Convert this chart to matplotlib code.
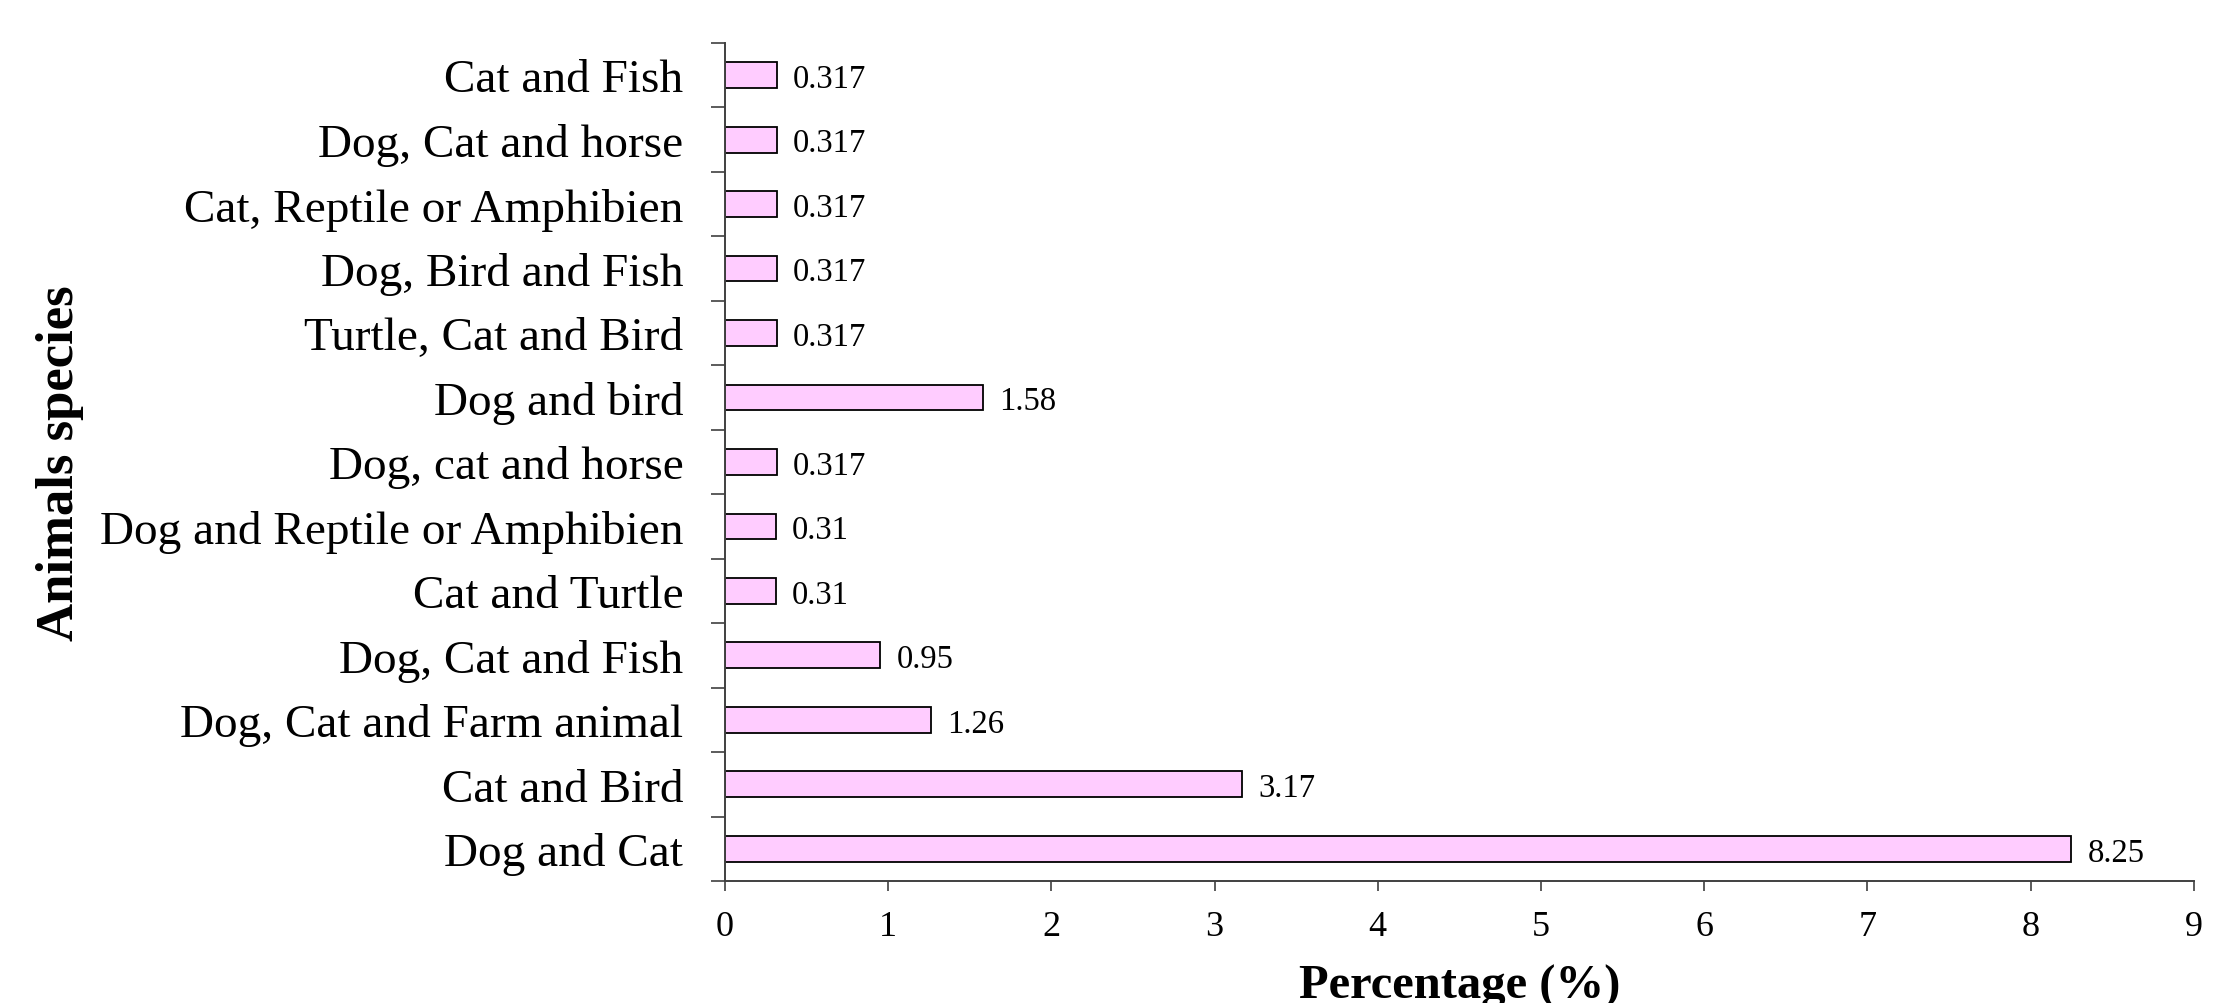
import numpy as np
import matplotlib
matplotlib.use('Agg')
import matplotlib.pyplot as plt

plt.rcParams['font.family'] = ['Liberation Serif', 'DejaVu Serif']

# dados (de baixo para cima)
especies = ['Dog and Cat', 'Cat and Bird', 'Dog, Cat and Farm animal',
            'Dog, Cat and Fish', 'Cat and Turtle', 'Dog and Reptile or Amphibien',
            'Dog, cat and horse', 'Dog and bird', 'Turtle, Cat and Bird',
            'Dog, Bird and Fish', 'Cat, Reptile or Amphibien', 'Dog, Cat and horse',
            'Cat and Fish']
percentuais = [8.25, 3.17, 1.26, 0.95, 0.31, 0.31, 0.317, 1.58, 0.317,
               0.317, 0.317, 0.317, 0.317]
rotulos = ['8.25', '3.17', '1.26', '0.95', '0.31', '0.31', '0.317', '1.58',
           '0.317', '0.317', '0.317', '0.317', '0.317']
xticks = list(range(10))

fig = plt.figure(figsize=(22.21, 10.04), dpi=100)
ax = fig.add_axes([0.3264, 0.1215, 0.9878 - 0.3264, 0.9562 - 0.1215])

pos = np.arange(len(especies))
ax.barh(pos, percentuais, height=0.4, color='#FFCCFF', edgecolor='black',
        linewidth=1.3)

for p, v, r in zip(pos, percentuais, rotulos):
    ax.text(v + 0.1, p, r, va='center_baseline', ha='left', fontsize=23.5)

ax.set_xlim(0, 9)
ax.set_ylim(-0.5, len(especies) - 0.5)
ax.set_xticks(xticks)
ax.set_xticklabels([str(t) for t in xticks], fontsize=26)
ax.set_yticks(pos)
ax.set_yticklabels(especies, fontsize=34)
ax.set_yticks(np.arange(-0.5, len(especies), 1), minor=True)

ax.tick_params(axis='y', which='major', length=0, pad=30)
ax.tick_params(axis='y', which='minor', length=10, width=1.2, color='#404040')
ax.tick_params(axis='x', which='major', length=7, width=1.2, color='#404040', pad=14)

for s in ['top', 'right']:
    ax.spines[s].set_visible(False)
for s in ['left', 'bottom']:
    ax.spines[s].set_color('#404040')
    ax.spines[s].set_linewidth(1.4)

ax.set_xlabel('Percentage (%)', fontsize=35, fontweight='bold', labelpad=15)
ax.set_ylabel('Animals species', fontsize=38, fontweight='bold')
ax.yaxis.set_label_coords(-0.436, 0.5)

fig.savefig('out.png', dpi=100)
